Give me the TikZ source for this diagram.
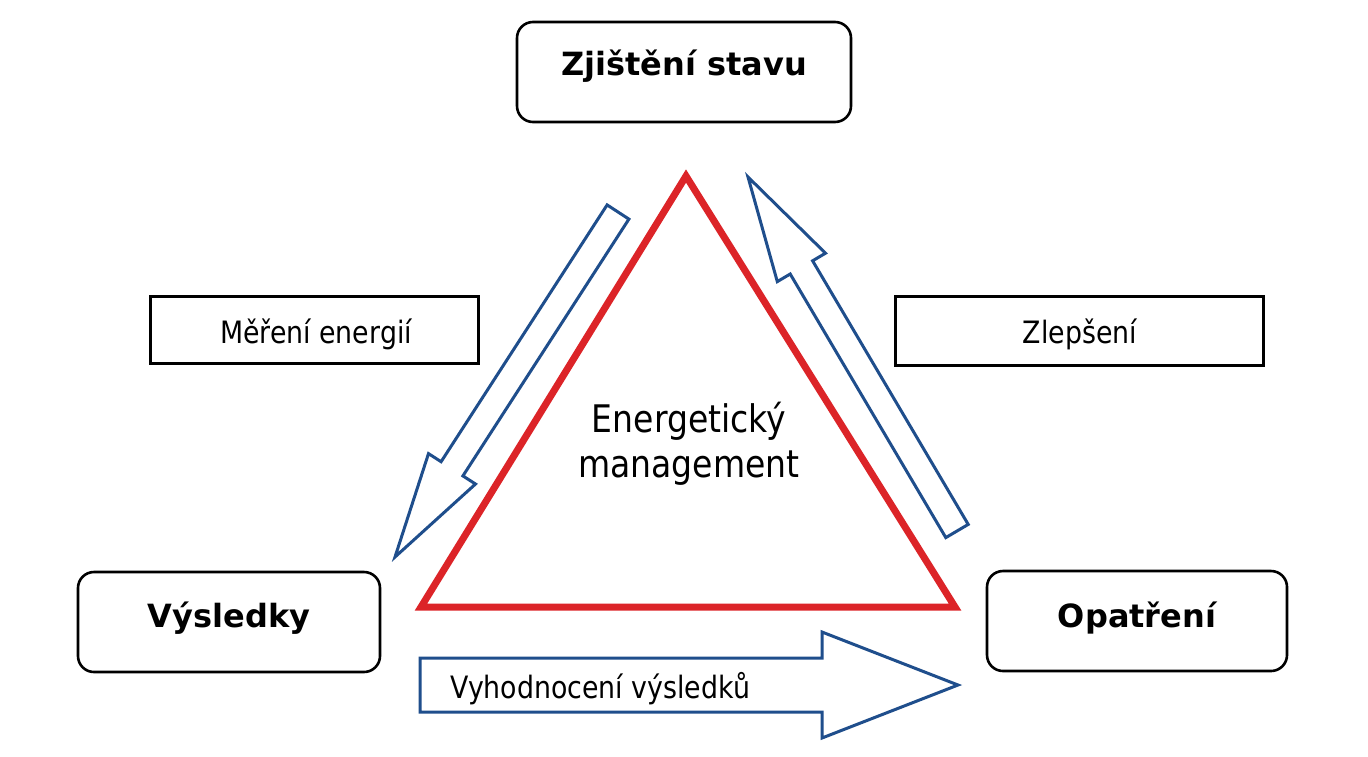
\documentclass[tikz,border=0pt]{standalone}
\usepackage{fontspec}
\setmainfont{DejaVu Sans}
\newfontfamily\tahfont[FakeStretch=0.87]{DejaVu Sans}
\definecolor{arrowblue}{RGB}{31,78,140}
\definecolor{trired}{RGB}{220,36,40}
\tikzset{
  roundbox/.style={draw=black, line width=1.3pt, rounded corners=8pt, fill=white, inner sep=0pt},
  labelbox/.style={draw=black, line width=1.5pt, fill=white, inner sep=0pt},
  bigtext/.style={font=\fontsize{16}{19}\selectfont\bfseries, anchor=base, inner sep=0pt},
  smalltext/.style={font=\tahfont\fontsize{15.4}{18}\selectfont, anchor=base, inner sep=0pt},
  midtext/.style={font=\tahfont\fontsize{19}{22.5}\selectfont, anchor=base, inner sep=0pt},
  blockarrow/.style={draw=arrowblue, line width=1.5pt, line join=miter, fill=white},
  tri/.style={draw=trired, line width=3.5pt, line join=miter}
}
\begin{document}
\begin{tikzpicture}[x=0.5pt,y=-0.5pt]
\useasboundingbox (0,0) rectangle (1368,756);
\fill[white] (0,0) rectangle (1368,756);

% main boxes
\node[roundbox, minimum width=167pt, minimum height=50pt] (zjb) at (684,72) {};
\node[roundbox, minimum width=151pt, minimum height=50pt] (vysb) at (229,622) {};
\node[roundbox, minimum width=150pt, minimum height=50pt] (opab) at (1137,621) {};
\node[bigtext] (zj) at (684,75) {Zjištění stavu};
\node[bigtext] (vys) at (229,627) {Výsledky};
\node[bigtext] (opa) at (1137,627) {Opatření};

% label boxes
\node[labelbox, minimum width=164pt, minimum height=33.5pt] (merb) at (314,330) {};
\node[labelbox, minimum width=184pt, minimum height=34.5pt] (zleb) at (1079,331) {};
\node[smalltext] (mer) at (316,343) {Měření energií};
\node[smalltext] (zle) at (1080,343) {Zlepšení};

% red triangle
\coordinate (ta) at (686,176);
\coordinate (tl) at (421,607);
\coordinate (tr) at (955,607);
\draw[tri] (ta) -- (tl) -- (tr) -- cycle;

\node[midtext] (en1) at (689,432) {Energetický};
\node[midtext] (en2) at (689,477) {management};

% left block arrow (down-left)
\draw[blockarrow] (628.9,219.1) -- (462.9,475.9) -- (475.5,484.0) -- (395,557)
  -- (428.5,453.6) -- (441.1,461.7) -- (607.1,204.9) -- cycle;

% right block arrow (up-left)
\draw[blockarrow] (968.2,524.4) -- (812.6,260.8) -- (825.5,253.2) -- (748,177)
  -- (777.3,281.6) -- (790.2,274.0) -- (945.8,537.6) -- cycle;

% bottom block arrow
\draw[blockarrow] (420,658) -- (822,658) -- (822,632) -- (958,685)
  -- (822,738) -- (822,712) -- (420,712) -- cycle;
\node[smalltext, anchor=base west] (vyh) at (450,698) {Vyhodnocení výsledků};
\end{tikzpicture}
\end{document}
